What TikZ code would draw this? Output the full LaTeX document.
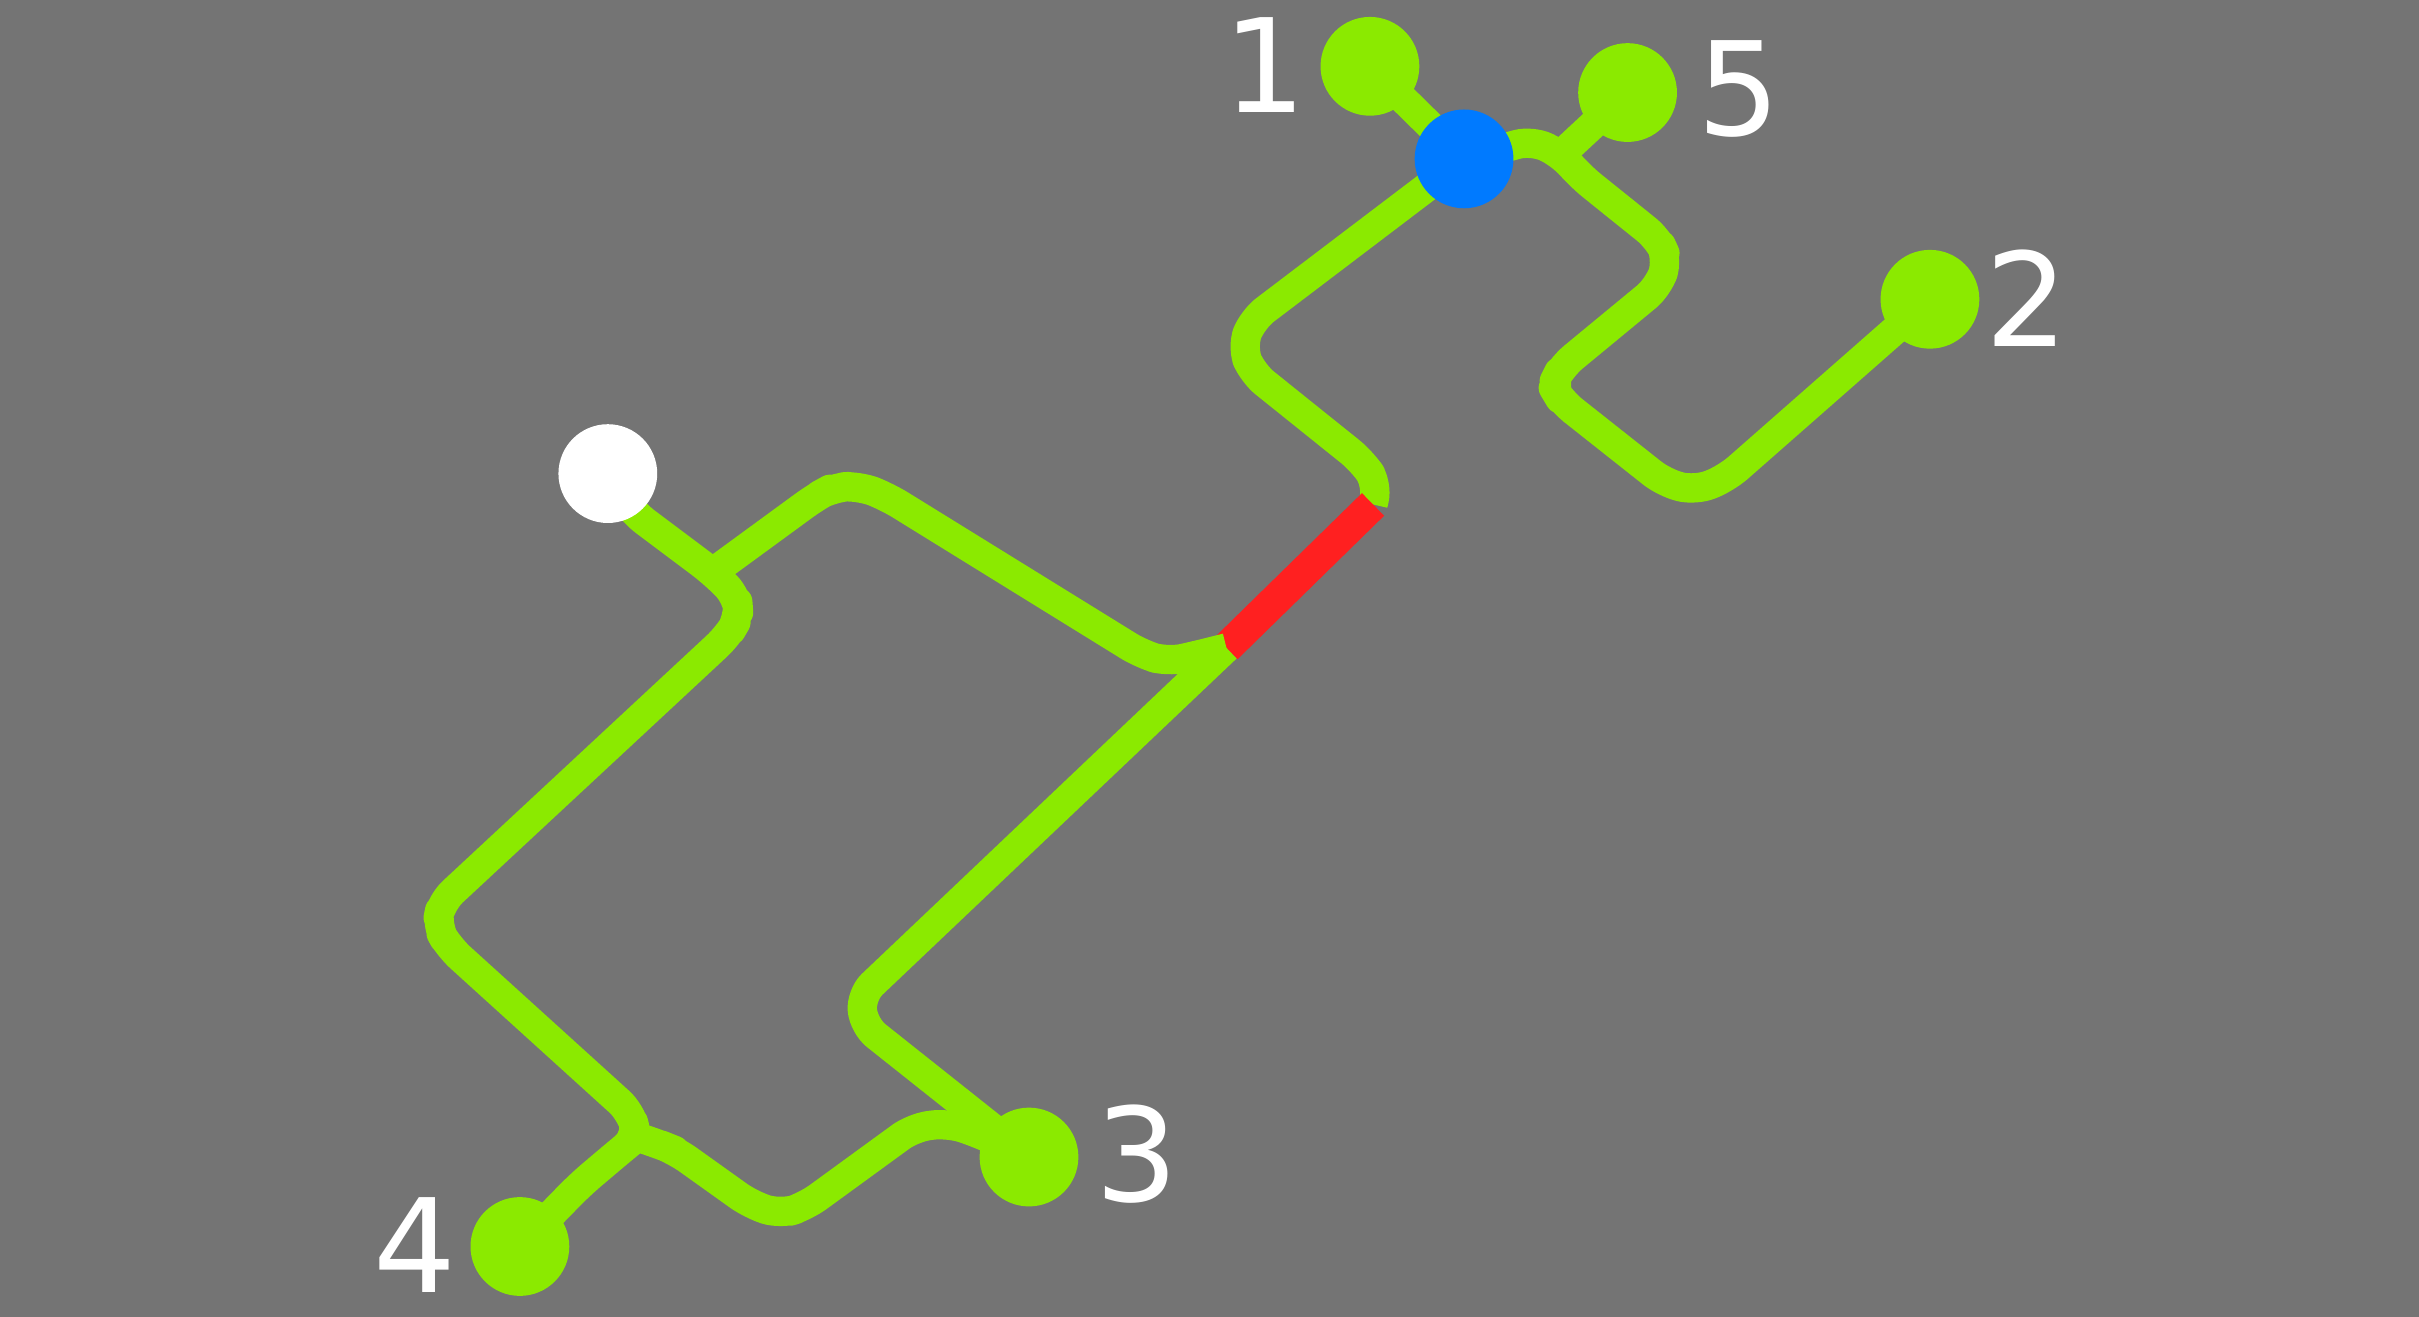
\documentclass[tikz,border=0pt]{standalone}
\usepackage{fontspec}
\setmainfont{DejaVu Sans}
\usetikzlibrary{backgrounds}
\definecolor{bg}{RGB}{116,116,116}
\definecolor{lime}{RGB}{139,234,0}
\definecolor{redline}{RGB}{255,32,32}
\definecolor{bluen}{RGB}{0,122,255}
\tikzset{
  stop/.style={circle,minimum size=0.64cm,inner sep=0pt,fill=lime},
  hub/.style={circle,minimum size=0.64cm,inner sep=0pt,fill=bluen},
  origin/.style={circle,minimum size=0.64cm,inner sep=0pt,fill=white},
  lbl/.style={text=white,font=\fontsize{24}{24}\selectfont,inner sep=0pt},
  route/.style={draw=lime,line width=0.19cm,rounded corners=0.1cm,line join=round},
  redroute/.style={draw=redline,line width=0.205cm}
}
\begin{document}
\begin{tikzpicture}[x=0.01cm,y=-0.01cm]
\useasboundingbox (0,0) rectangle (1568,853.7);
% stations
\node[stop] (n1) at (888,43) {};
\node[stop] (n5) at (1055,60) {};
\node[hub] (nb) at (949,103) {};
\node[stop] (n2) at (1251,194) {};
\node[origin] (nw) at (394,307) {};
\node[stop] (n3) at (667,750) {};
\node[stop] (n4) at (337,808) {};
% junctions
\coordinate (j5) at (1012,100);
\coordinate (rt) at (890,327);
\coordinate (rb) at (795,420);
\coordinate (jw) at (462,371);
\coordinate (j4) at (413,737);
% labels
\node[lbl] (l1) at (820,42) {1};
\node[lbl] (l5) at (1127,58) {5};
\node[lbl] (l2) at (1314,193) {2};
\node[lbl] (l3) at (737,748) {3};
\node[lbl] (l4) at (269,807) {4};
\begin{scope}[on background layer]
\fill[bg] (0,0) rectangle (1568,853.7);
\draw[route] (n1.center) -- (nb.center);
\draw[route] (n5.center) -- (j5);
\draw[route] (nb.center) -- (993,91) -- (j5) -- (1024,114) -- (1075,155) -- (1081,168) -- (1075,186) -- (1012,238) -- (1006,250) -- (1012,260) -- (1079,313) -- (1099,318) -- (1119,310) -- (n2.center);
\draw[route] (nb.center) -- (812,207) -- (805,225) -- (812,242) -- (883,299) -- (893,314) -- (rt);
\draw[redroute] (rt) -- (rb);
\draw[route] (rb) -- (558,645) -- (560,665) -- (n3.center);
\draw[route] (rb) -- (775,425) -- (757,429) -- (740,424) -- (575,322) -- (557,315) -- (540,316) -- (529,322) -- (jw);
\draw[route] (nw.center) -- (410,332) -- (jw) -- (478,387) -- (479,400) -- (472,412) -- (286,585) -- (283,600) -- (291,614) -- (409,721) -- (j4) -- (402,746) -- (376,768) -- (n4.center);
\draw[route] (j4) -- (428,742) -- (438,746) -- (487,781) -- (506,787) -- (522,782) -- (592,731) -- (614,728) -- (633,734) -- (n3.center);
\end{scope}
\end{tikzpicture}
\end{document}
